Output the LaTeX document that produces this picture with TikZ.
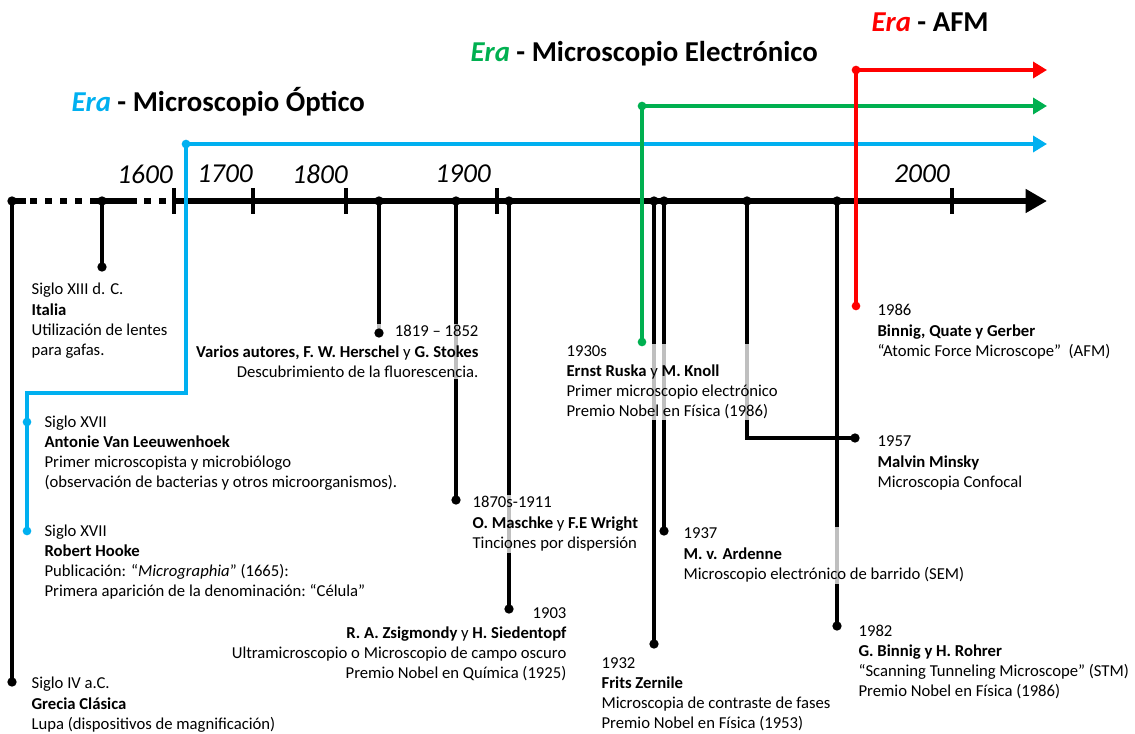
\documentclass[tikz,border=0pt]{standalone}
\usepackage{fontspec}
\setmainfont{Carlito}
\usetikzlibrary{arrows.meta}

\definecolor{azul}{HTML}{00B0F0}
\definecolor{verde}{HTML}{00B050}
\definecolor{rojo}{HTML}{FF0000}

\pgfdeclarelayer{frente}
\pgfsetlayers{main,frente}

\tikzset{
    punto/.style={circle, fill=black, inner sep=0pt, minimum size=7pt},
    tallo/.style={line width=2.3pt},
    texto/.style={font=\fontsize{12.5}{15.2}\selectfont, align=left, inner sep=1pt,
        fill=white, fill opacity=0.75, text opacity=1},
    anio/.style={font=\fontsize{20.5}{24}\selectfont\itshape},
    titulo/.style={font=\fontsize{21.6}{26}\selectfont\bfseries, anchor=west},
    era/.style={line width=3pt, color=#1},
    flecha/.style={-{Triangle[length=10.5pt, width=12pt]}}
}

\begin{document}
\begin{tikzpicture}[x=0.75pt, y=-0.75pt]
    \useasboundingbox (0,0) rectangle (1135,734);

    % puntos (por encima de todo)
    \begin{pgfonlayer}{frente}
        \node[punto] (inicio) at (12,201) {};
        \node[punto] (grecia) at (12,682) {};
        \node[punto] (italia0) at (102,201) {};
        \node[punto] (italia) at (102,267) {};
        \node[punto] (herschel0) at (379,201) {};
        \node[punto] (herschel) at (379,333) {};
        \node[punto] (maschke0) at (456,201) {};
        \node[punto] (maschke) at (456,500) {};
        \node[punto] (zsigmondy0) at (509,201) {};
        \node[punto] (zsigmondy) at (509,609) {};
        \node[punto] (zernike0) at (654,201) {};
        \node[punto] (zernike) at (654,644) {};
        \node[punto] (ardenne0) at (664,201) {};
        \node[punto] (ardenne) at (664,531) {};
        \node[punto] (minsky0) at (747,201) {};
        \node[punto] (minsky) at (855,438) {};
        \node[punto] (rohrer0) at (837,201) {};
        \node[punto] (rohrer) at (837,626) {};

        \node[punto, fill=azul, minimum size=6.5pt] (opt0) at (186,144) {};
        \node[punto, fill=azul, minimum size=6.5pt] (leeuwenhoek) at (27,422) {};
        \node[punto, fill=azul, minimum size=6.5pt] (hooke) at (27,531) {};
        \node[punto, fill=verde, minimum size=6.5pt] (ele0) at (642,106) {};
        \node[punto, fill=verde, minimum size=6.5pt] (ruska) at (642,342) {};
        \node[punto, fill=rojo, minimum size=6.5pt] (afm0) at (856,70) {};
        \node[punto, fill=rojo, minimum size=6.5pt] (binnigafm) at (856,306) {};
    \end{pgfonlayer}

    % eje del tiempo
    \coordinate (fin) at (1047,201);
    \draw[line width=5.2pt] (inicio.center) -- (26,201);
    \draw[line width=5.2pt, dash pattern=on 5.25pt off 6pt] (30,201) -- (91,201);
    \draw[line width=5.2pt] (91,201) -- (137,201);
    \draw[line width=5.2pt, dash pattern=on 5.25pt off 6pt, dash phase=6pt] (137,201) -- (174,201);
    \draw[line width=5.2pt, -{Triangle[length=16pt, width=17pt]}] (174,201) -- (fin);

    \foreach \x/\lx/\anio in {174/145/1600, 253/225/1700, 346/320/1800, 497/463/1900, 952/922/2000}
    {
        \draw[line width=2.3pt] (\x,188) -- (\x,214);
        \node[anio] (a\anio) at (\lx,174) {\anio};
    }

    % eras
    \node[titulo] (tOptico) at (67,102) {\textcolor{azul}{\textit{Era}} - Microscopio Óptico};
    \node[titulo] (tElectronico) at (466,54) {\textcolor{verde}{\textit{Era}} - Microscopio Electrónico};
    \node[titulo] (tAFM) at (867,22) {\textcolor{rojo}{\textit{Era}} - AFM};

    \coordinate (opt1) at (1047,144);
    \draw[era=azul] (hooke.center) |- (186,393) -- (opt0.center);
    \draw[era=azul, flecha] (opt0.center) -- (opt1);

    \coordinate (ele1) at (1047,106);
    \draw[era=verde] (ruska.center) -- (ele0.center);
    \draw[era=verde, flecha] (ele0.center) -- (ele1);

    \coordinate (afm1) at (1047,70);
    \draw[era=rojo] (binnigafm.center) -- (afm0.center);
    \draw[era=rojo, flecha] (afm0.center) -- (afm1);

    % eventos
    \draw[tallo] (inicio.center) -- (grecia.center);
    \draw[tallo] (italia0.center) -- (italia.center);
    \draw[tallo] (herschel0.center) -- (herschel.center);
    \draw[tallo] (maschke0.center) -- (maschke.center);
    \draw[tallo] (zsigmondy0.center) -- (zsigmondy.center);
    \draw[tallo] (zernike0.center) -- (zernike.center);
    \draw[tallo] (ardenne0.center) -- (ardenne.center);
    \draw[tallo] (minsky0.center) |- (minsky.center);
    \draw[tallo] (rohrer0.center) -- (rohrer.center);

    % textos (la base es la de la ultima linea)
    \node[texto, anchor=base west] (tGrecia) at (30,729.5) {Siglo IV a.C.\\\textbf{Grecia Clásica}\\Lupa (dispositivos de magnificación)};
    \node[texto, anchor=base west] (tItalia) at (30,355.8) {Siglo XIII d. C.\\\textbf{Italia}\\Utilización de lentes\\para gafas.};
    \node[texto, anchor=base east, align=right] (tHerschel) at (480,377.5) {1819 – 1852\\\textbf{Varios autores, F. W. Herschel} y \textbf{G. Stokes}\\Descubrimiento de la fluorescencia.};
    \node[texto, anchor=base west] (tMaschke) at (471,548.5) {1870s-1911\\\textbf{O. Maschke} y \textbf{F.E Wright}\\Tinciones por dispersión};
    \node[texto, anchor=base east, align=right] (tZsigmondy) at (568,678.8) {1903\\\textbf{R. A. Zsigmondy} y \textbf{H. Siedentopf}\\Ultramicroscopio o Microscopio de campo oscuro\\Premio Nobel en Química (1925)};
    \node[texto, anchor=base west] (tZernike) at (600,728.8) {1932\\\textbf{Frits Zernile}\\Microscopia de contraste de fases\\Premio Nobel en Física (1953)};
    \node[texto, anchor=base west] (tArdenne) at (682,579.5) {1937\\\textbf{M. v. Ardenne}\\Microscopio electrónico de barrido (SEM)};
    \node[texto, anchor=base west] (tMinsky) at (876,487.5) {1957\\\textbf{Malvin Minsky}\\Microscopia Confocal};
    \node[texto, anchor=base west] (tRohrer) at (857,696.8) {1982\\\textbf{G. Binnig y H. Rohrer}\\“Scanning Tunneling Microscope” (STM)\\Premio Nobel en Física (1986)};
    \node[texto, anchor=base west] (tRuska) at (565,416.8) {1930s\\\textbf{Ernst Ruska} y \textbf{M. Knoll}\\Primer microscopio electrónico\\Premio Nobel en Física (1986)};
    \node[texto, anchor=base west] (tAFMtexto) at (876,356.5) {1986\\\textbf{Binnig, Quate y Gerber}\\“Atomic Force Microscope”\ \ (AFM)};
    \node[texto, anchor=base west] (tLeeuwenhoek) at (43,487.8) {Siglo XVII\\\textbf{Antonie Van Leeuwenhoek}\\Primer microscopista y microbiólogo\\(observación de bacterias y otros microorganismos).};
    \node[texto, anchor=base west] (tHooke) at (43,596.8) {Siglo XVII\\\textbf{Robert Hooke}\\Publicación: “\textit{Micrographia}” (1665):\\Primera aparición de la denominación:\ “Célula”};
\end{tikzpicture}
\end{document}
